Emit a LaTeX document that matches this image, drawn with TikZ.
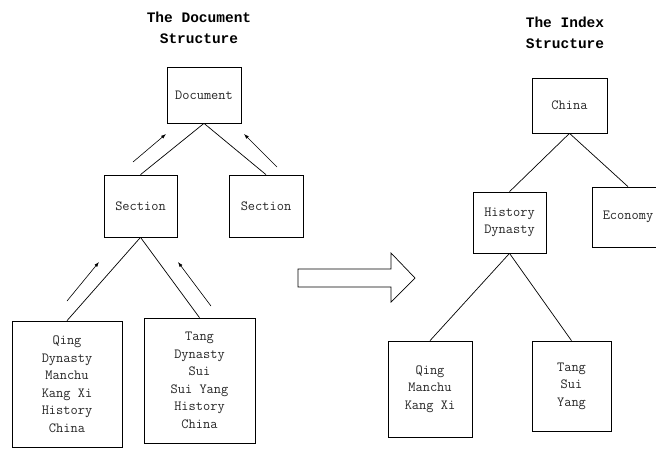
\documentclass[tikz,border=0pt]{standalone}
\usepackage{fontspec}
\newfontfamily\headfont{Liberation Mono}
\usetikzlibrary{arrows.meta}

\begin{document}
\begin{tikzpicture} [x=1pt, y=-1pt, line width=0.7pt,
        box/.style={draw, inner sep=0pt, align=center, text=black!85,
            font=\ttfamily\fontsize{14}{17.5}\selectfont},
        heading/.style={align=center, font=\headfont\bfseries\fontsize{14.5}{21}\selectfont}]
            \useasboundingbox (0,0) rectangle (656,448);

            % left: the document structure
            \node[heading] (dtitle) at (199, 28)  {The Document\\Structure};
            \node[box, minimum width=74pt, minimum height=56pt]  (doc)   at (204, 95)      {Document};
            \node[box, minimum width=73pt, minimum height=62pt]  (secl)  at (140.5, 206)   {Section};
            \node[box, minimum width=74pt, minimum height=62pt]  (secr)  at (266, 206)     {Section};
            \node[box, minimum width=110pt, minimum height=126pt] (qing) at (67, 384)
                {Qing\\Dynasty\\Manchu\\Kang Xi\\History\\China};
            \node[box, minimum width=111pt, minimum height=125pt] (tang) at (199.5, 380.5)
                {Tang\\Dynasty\\Sui\\Sui Yang\\History\\China};

            % right: the index structure
            \node[heading] (ititle) at (565, 33)  {The Index\\Structure};
            \node[box, minimum width=75pt, minimum height=55pt]  (china) at (569.5, 105.5) {China};
            \node[box, minimum width=73pt, minimum height=61pt]  (hist)  at (509.5, 222.5) {History\\Dynasty};
            \node[box, minimum width=72pt, minimum height=60pt]  (econ)  at (628, 217)     {Economy};
            \node[box, minimum width=84pt, minimum height=96pt]  (iqing) at (430, 389)     {Qing\\Manchu\\Kang Xi};
            \node[box, minimum width=79pt, minimum height=90pt]  (itang) at (571.5, 386)   {Tang\\Sui\\Yang};

            \draw (doc.south) -- (secl.north);
            \draw (doc.south) -- (secr.north);
            \draw (secl.south) -- (qing.north);
            \draw (secl.south) -- (tang.north);
            \draw (china.south) -- (hist.north);
            \draw (china.south) -- (econ.north);
            \draw (hist.south) -- (iqing.north);
            \draw (hist.south) -- (itang.north);

            % upward arrows
            \coordinate (u1a) at (133, 162);  \coordinate (u1b) at (166, 134);
            \coordinate (u2a) at (277, 167);  \coordinate (u2b) at (244, 134);
            \coordinate (u3a) at (67, 301);   \coordinate (u3b) at (99, 262);
            \coordinate (u4a) at (211, 306);  \coordinate (u4b) at (178, 262);
            \begin{scope}[->, >={Latex[length=5pt, width=3.5pt]}, line width=0.6pt]
                \draw (u1a) -> (u1b);
                \draw (u2a) -> (u2b);
                \draw (u3a) -> (u3b);
                \draw (u4a) -> (u4b);
            \end{scope}

            % big arrow
            \draw (298, 269) -- (391, 269) -- (391, 253) -- (415, 278)
                -- (391, 302) -- (391, 287) -- (298, 287) -- cycle;
        \end{tikzpicture}
\end{document}
